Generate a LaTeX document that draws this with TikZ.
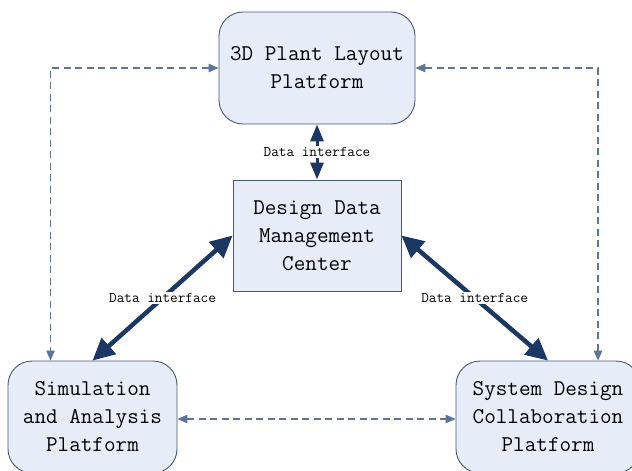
\documentclass[tikz,border=0pt]{standalone}
\usepackage{tikz}
\usetikzlibrary{arrows.meta,positioning}

\definecolor{boxfill}{HTML}{E7EDF8}
\definecolor{boxline}{HTML}{44597D}
\definecolor{linkblue}{HTML}{1B3763}
\definecolor{dashblue}{HTML}{5E7398}

\begin{document}
\begin{tikzpicture}[
    x=1pt, y=-1pt,
    box/.style={draw=boxline, line width=0.9pt, fill=boxfill, align=center,
      font=\fontsize{22.5}{28}\ttfamily, inner sep=0pt},
    platform/.style={box, rounded corners=24pt},
    datalink/.style={{Triangle[length=22pt,width=21pt]}-{Triangle[length=22pt,width=21pt]}, line width=4.5pt, draw=linkblue, fill=linkblue},
    shortlink/.style={{Triangle[length=17pt,width=13pt]}-{Triangle[length=17pt,width=13pt]}, line width=3pt, draw=linkblue, fill=linkblue},
    dashlink/.style={{Triangle[length=10pt,width=8.5pt]}-{Triangle[length=10pt,width=8.5pt]}, line width=1.1pt, draw=dashblue, dash pattern=on 7pt off 4.5pt},
    tag/.style={fill=white, inner sep=1.5pt, font=\fontsize{14.8}{16}\ttfamily}
  ]
    \clip (0,0) rectangle (632,471);

    \node[platform, minimum width=196pt, minimum height=112pt] (layout) at (317,68) {3D Plant Layout\\Platform};
    \node[box, minimum width=168pt, minimum height=111pt] (ddmc) at (317,235.5) {Design Data\\Management\\Center};
    \node[platform, minimum width=169pt, minimum height=112pt] (simu) at (92.5,417) {Simulation\\and Analysis\\Platform};
    \node[platform, minimum width=184pt, minimum height=112pt] (sysd) at (548,417) {System Design\\Collaboration\\Platform};

    \draw[shortlink] (layout) -- node[tag] {Data interface} (ddmc);
    \draw[datalink] (ddmc.west) -- node[tag] {Data interface} (simu.north);
    \draw[datalink] (ddmc.east) -- node[tag] {Data interface} (sysd.north);

    \draw[dashlink] (layout.west) -| ([xshift=-42pt]simu.north);
    \draw[dashlink] (layout.east) -| ([xshift=50pt]sysd.north);
    \draw[dashlink] ([yshift=-2pt]simu.east) -- ([yshift=-2pt]sysd.west);
  \end{tikzpicture}
\end{document}
